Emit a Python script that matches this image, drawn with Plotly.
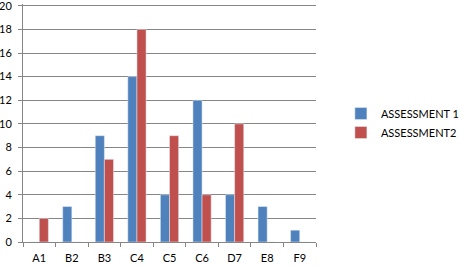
import plotly.graph_objects as go

categories = ["A1", "B2", "B3", "C4", "C5", "C6", "D7", "E8", "F9"]
assessment1 = [0, 3, 9, 14, 4, 12, 4, 3, 1]
assessment2 = [2, 0, 7, 18, 9, 4, 10, 0, 0]
y_ticks = list(range(0, 21, 2))

fig = go.Figure()
fig.add_trace(go.Bar(name="ASSESSMENT 1", x=categories, y=assessment1, marker_color="#4F81BD"))
fig.add_trace(go.Bar(name="ASSESSMENT2", x=categories, y=assessment2, marker_color="#C0504D"))

fig.update_layout(
    width=468, height=268,
    margin=dict(l=23, r=125, t=4, b=26),
    paper_bgcolor="white", plot_bgcolor="white",
    barmode="group", bargap=0.44, bargroupgap=0,
    font=dict(family="Lato", size=11, color="#000000"),
    showlegend=True,
    legend=dict(x=1.085, y=0.5, yanchor="middle", xanchor="left",
                font=dict(size=11), tracegroupgap=8, itemwidth=30),
    xaxis=dict(showline=True, linecolor="#868686", linewidth=1, automargin=False,
               ticks="outside", ticklen=4, tickcolor="#868686",
               tickson="boundaries", showgrid=False, ticklabelstandoff=6),
    yaxis=dict(range=[0, 20.15], tickvals=y_ticks, showline=True, linecolor="#868686",
               automargin=False, ticklabeloverflow="allow",
               ticks="outside", ticklen=4, tickcolor="#868686", ticklabelstandoff=4,
               showgrid=True, gridcolor="#868686", gridwidth=1, zeroline=False),
)

fig.write_html("out.html")
